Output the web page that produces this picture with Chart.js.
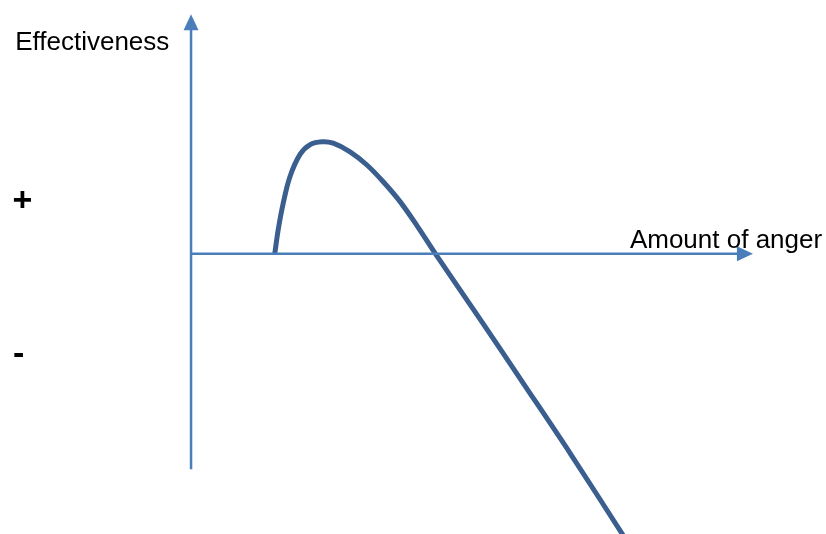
<!DOCTYPE html>
<html>
<head>
<meta charset="utf-8">
<script src="https://cdn.jsdelivr.net/npm/chart.js@4/dist/chart.umd.min.js"></script>
<style>
  html, body { margin: 0; padding: 0; background: #ffffff; }
  #wrap { width: 826px; height: 534px; }
</style>
</head>
<body>
<div id="wrap"><canvas id="chart" width="826" height="534"></canvas></div>
<script>
// Amount of anger (horizontal) against effectiveness (vertical)
const angerAmount = [1.49, 1.55, 1.64, 1.76, 1.94, 2.12, 2.33, 2.53, 2.83, 3.13, 3.42, 3.72, 4.02, 4.35, 5.14, 5.94, 6.75, 7.71];
const effectiveness = [0.00, 0.99, 2.11, 3.22, 4.15, 4.56, 4.68, 4.62, 4.26, 3.71, 3.01, 2.18, 1.18, 0.00, -2.72, -5.50, -8.34, -11.83];

// Axis extents (arrow tips) and labels
const xAxisEnd = 10;
const yAxisTop = 10;
const yAxisBottom = -9;
const yAxisTitle = 'Effectiveness';
const xAxisTitle = 'Amount of anger';
const positiveMark = '+';
const negativeMark = '-';

const points = angerAmount.map((x, i) => ({ x: x, y: effectiveness[i] }));

const AXIS_COLOR = '#4A7EBB';
const CURVE_COLOR = '#3A5F8E';
const FONT = '"Liberation Sans", Arial, sans-serif';

// Draws the two arrowed axes and their text labels
const arrowAxes = {
  id: 'arrowAxes',
  afterDatasetsDraw(chart) {
    const { ctx, scales } = chart;
    const xs = scales.x, ys = scales.y;
    const ox = xs.getPixelForValue(0);
    const oy = ys.getPixelForValue(0);
    const xEnd = xs.getPixelForValue(xAxisEnd);
    const yTop = ys.getPixelForValue(yAxisTop);
    const yBot = ys.getPixelForValue(yAxisBottom);
    const head = 16, half = 7.5;

    ctx.save();
    ctx.strokeStyle = AXIS_COLOR;
    ctx.fillStyle = AXIS_COLOR;
    ctx.lineWidth = 2.5;

    // horizontal axis
    ctx.beginPath();
    ctx.moveTo(ox, oy);
    ctx.lineTo(xEnd - head + 2, oy);
    ctx.stroke();
    ctx.beginPath();
    ctx.moveTo(xEnd, oy);
    ctx.lineTo(xEnd - head, oy - half);
    ctx.lineTo(xEnd - head, oy + half);
    ctx.closePath();
    ctx.fill();

    // vertical axis
    ctx.beginPath();
    ctx.moveTo(ox, yBot);
    ctx.lineTo(ox, yTop + head - 2);
    ctx.stroke();
    ctx.beginPath();
    ctx.moveTo(ox, yTop);
    ctx.lineTo(ox - half, yTop + head);
    ctx.lineTo(ox + half, yTop + head);
    ctx.closePath();
    ctx.fill();

    // labels
    ctx.fillStyle = '#000000';
    ctx.textAlign = 'left';
    ctx.textBaseline = 'alphabetic';
    ctx.font = '26px ' + FONT;
    ctx.fillText(yAxisTitle, xs.getPixelForValue(-3.13), ys.getPixelForValue(8.51));
    ctx.fillText(xAxisTitle, xs.getPixelForValue(7.81), ys.getPixelForValue(0.25));

    ctx.font = 'bold 34px ' + FONT;
    ctx.textAlign = 'center';
    ctx.textBaseline = 'middle';
    ctx.fillText(positiveMark, xs.getPixelForValue(-3.0), ys.getPixelForValue(2.18));
    ctx.fillText(negativeMark, xs.getPixelForValue(-3.07), ys.getPixelForValue(-4.23));
    ctx.restore();
  }
};

new Chart(document.getElementById('chart'), {
  type: 'scatter',
  data: {
    datasets: [{
      data: points,
      showLine: true,
      borderColor: CURVE_COLOR,
      borderWidth: 5,
      pointRadius: 0,
      pointHoverRadius: 0,
      tension: 0.35,
      fill: false
    }]
  },
  options: {
    responsive: false,
    animation: false,
    layout: { padding: 0 },
    scales: {
      x: { type: 'linear', display: false, min: -3.4, max: 11.3 },
      y: { type: 'linear', display: false, min: -11.7, max: 10.6 }
    },
    plugins: {
      legend: { display: false },
      tooltip: { enabled: false }
    }
  },
  plugins: [arrowAxes]
});
</script>
</body>
</html>
